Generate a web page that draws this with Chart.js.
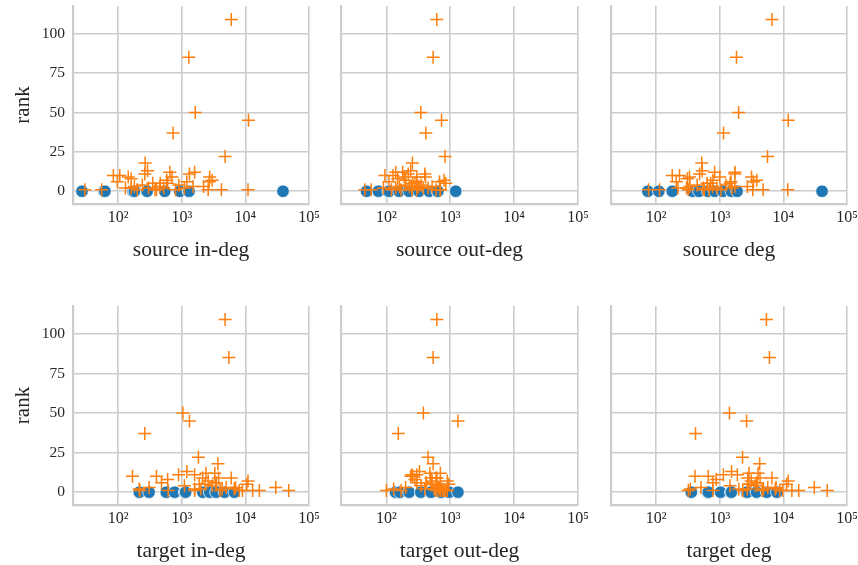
<!DOCTYPE html>
<html>
<head>
<meta charset="utf-8">
<script src="https://cdn.jsdelivr.net/npm/chart.js@4/dist/chart.umd.min.js"></script>
<style>
  html, body { margin: 0; padding: 0; background: #ffffff; }
  #wrap { position: relative; width: 858px; height: 565px; overflow: hidden; background: #ffffff; }
  #wrap canvas { position: absolute; }
</style>
</head>
<body>
<div id="wrap"></div>
<script>
// ---- data -----------------------------------------------------------------
// ranks of the ranked (orange) nodes
const orangeRank = [109, 85, 50, 45, 37, 22, 18, 1, 1, 10, 10, 6, 9, 11, 12, 9, 11, 12, 9, 6,
                    7, 1, 1, 5, 2, 3, 1, 4, 2, 5, 1, 3, 2, 7, 1, 4, 2, 6, 3, 1, 8, 13, 3, 2, 1, 5];
const srcInOrange  = [6000, 1290, 1630, 11200, 730, 4800, 265, 30, 55, 84, 106, 97, 144, 262, 650, 700, 1320, 1590, 2750, 2700,
                      3000, 4200, 11000, 600, 130, 180, 200, 240, 300, 350, 400, 450, 520, 580, 800, 900, 1100, 1200, 1500, 2600, 160, 290, 2200, 160, 380, 460];
const srcOutOrange = [616, 540, 346, 730, 415, 830, 256, 46, 58, 95, 127, 110, 190, 220, 180, 300, 400, 140, 410, 680,
                      800, 600, 700, 850, 90, 160, 120, 200, 250, 280, 170, 320, 380, 200, 250, 350, 450, 300, 230, 700, 150, 240, 520, 140, 300, 260];
const srcDegOrange = [6620, 1830, 1980, 11930, 1145, 5630, 521, 76, 113, 179, 233, 207, 334, 482, 830, 1000, 1720, 1730, 3160, 3380,
                      3800, 4800, 11700, 1450, 220, 340, 320, 440, 550, 630, 570, 770, 900, 780, 1050, 1250, 1550, 1500, 1730, 3300, 310, 530, 2720, 300, 680, 720];
const tgtInOrange  = [4800, 5500, 1040, 1320, 262, 1830, 3700, 1600, 220, 168, 400, 480, 3800, 890, 3300, 2130, 1590, 2400, 6000, 3400,
                      11000, 9000, 48000, 1880, 214, 307, 610, 1100, 1590, 2330, 4000, 4980, 6700, 2600, 8000, 3000, 2000, 3500, 30000, 16600, 600, 1200, 7000, 4300, 13000, 10500];
const tgtOutOrange = [616, 540, 380, 1320, 154, 450, 540, 700, 100, 240, 260, 300, 500, 250, 700, 620, 300, 480, 600, 420,
                      900, 800, 900, 950, 130, 200, 170, 350, 400, 500, 650, 700, 750, 520, 760, 600, 700, 420, 650, 850, 280, 330, 680, 560, 600, 700];
const tgtDegOrange = [5420, 6040, 1420, 2640, 416, 2280, 4240, 2300, 320, 408, 660, 780, 4300, 1140, 4000, 2750, 1890, 2880, 6600, 3820,
                      11900, 9800, 48900, 2830, 344, 507, 780, 1450, 1990, 2830, 4650, 5680, 7450, 3120, 8760, 3600, 2700, 3920, 30650, 17450, 880, 1530, 7680, 4860, 13600, 11200];

// unranked (blue) nodes, all at rank 0
const blueRank    = [0, 0, 0, 0, 0, 0, 0, 0, 0, 0, 0];
const srcInBlue   = [27, 60, 62, 172, 180, 285, 540, 930, 1280, 1300, 39000];
const srcOutBlue  = [49, 75, 107, 110, 158, 227, 325, 468, 630, 640, 1220];
const srcDegBlue  = [74, 110, 179, 378, 470, 650, 830, 1125, 1520, 1870, 40500];
const tgtInBlue   = [215, 306, 570, 775, 1110, 1150, 2140, 2750, 3460, 4700, 6700];
const tgtOutBlue  = [137, 140, 162, 227, 346, 495, 500, 710, 720, 960, 1320];
const tgtDegBlue  = [357, 650, 660, 1030, 1500, 1520, 2620, 2700, 3780, 5470, 7900];

// axis labels and ticks
const xTitles = ['source in-deg', 'source out-deg', 'source deg', 'target in-deg', 'target out-deg', 'target deg'];
const yTitle = 'rank';
const xTickValues = [1e2, 1e3, 1e4, 1e5];
const yTickValues = [0, 25, 50, 75, 100];

// ---- drawing --------------------------------------------------------------
const BLUE = '#1f77b4';
const ORANGE = '#ff7f0e';
const GRID = '#cccccc';
const TEXT = '#262626';
const FONT = "'Liberation Serif', 'DejaVu Serif', serif";
const SUP = { 2: '\u00b2', 3: '\u00b3', 4: '\u2074', 5: '\u2075' };

const panelSeries = [
  [srcInOrange, srcInBlue], [srcOutOrange, srcOutBlue], [srcDegOrange, srcDegBlue],
  [tgtInOrange, tgtInBlue], [tgtOutOrange, tgtOutBlue], [tgtDegOrange, tgtDegBlue]
];

// plot-area frame of each column / row in page pixels
const COLS = [{ l: 73, r: 309 }, { l: 341, r: 578 }, { l: 611, r: 847 }];
const ROWS = [{ t: 6, b: 204 }, { t: 306, b: 505 }];
const PAD_TOP = 20, PAD_RIGHT = 22, X_AXIS_H = 62;

function points(xs, ys) {
  return xs.map((x, i) => ({ x: x, y: ys[i] }));
}

const wrap = document.getElementById('wrap');

panelSeries.forEach(([orangeX, blueX], idx) => {
  const col = idx % 3, row = Math.floor(idx / 3);
  const c = COLS[col], r = ROWS[row];
  const yW = col === 0 ? 73 : 10;

  const cv = document.createElement('canvas');
  const w = yW + (c.r - c.l) + PAD_RIGHT;
  const h = PAD_TOP + (r.b - r.t) + X_AXIS_H;
  cv.width = w; cv.height = h;
  cv.style.left = (c.l - yW) + 'px';
  cv.style.top = (r.t - PAD_TOP) + 'px';
  cv.style.width = w + 'px';
  cv.style.height = h + 'px';
  wrap.appendChild(cv);

  new Chart(cv, {
    type: 'scatter',
    data: {
      datasets: [
        {
          label: 'ranked',
          data: points(orangeX, orangeRank),
          pointStyle: 'cross',
          pointRadius: 6.5,
          borderColor: ORANGE,
          backgroundColor: ORANGE,
          borderWidth: 1.5,
          order: 0
        },
        {
          label: 'unranked',
          data: points(blueX, blueRank),
          pointStyle: 'circle',
          pointRadius: 6.3,
          backgroundColor: BLUE,
          borderColor: '#ffffff',
          borderWidth: 0.8,
          order: 1
        }
      ]
    },
    options: {
      responsive: false,
      animation: false,
      devicePixelRatio: 1,
      layout: { padding: { top: PAD_TOP, right: PAD_RIGHT, left: 0, bottom: 0 } },
      plugins: { legend: { display: false }, tooltip: { enabled: false } },
      scales: {
        x: {
          type: 'logarithmic',
          min: 19.5,
          max: 1e5,
          afterBuildTicks: (s) => { s.ticks = xTickValues.map(v => ({ value: v, major: true })); },
          afterFit: (s) => { s.height = X_AXIS_H; },
          ticks: {
            autoSkip: false,
            maxRotation: 0,
            padding: 4,
            color: TEXT,
            font: { family: FONT, size: 16 },
            callback: (v) => '10' + SUP[Math.round(Math.log10(v))]
          },
          grid: { color: GRID, lineWidth: 1.6, drawTicks: false },
          border: { display: true, color: GRID, width: 2.2 },
          title: {
            display: true,
            text: xTitles[idx],
            color: TEXT,
            font: { family: FONT, size: 21.5 },
            padding: { top: 0, bottom: 3 }
          }
        },
        y: {
          type: 'linear',
          min: -8.1,
          max: 117.6,
          afterBuildTicks: (s) => { s.ticks = yTickValues.map(v => ({ value: v })); },
          afterFit: (s) => { s.width = yW; },
          ticks: {
            display: col === 0,
            padding: 8,
            color: TEXT,
            font: { family: FONT, size: 15.5 }
          },
          grid: { color: GRID, lineWidth: 1.6, drawTicks: false },
          border: { display: true, color: GRID, width: 2.2 },
          title: {
            display: col === 0,
            text: yTitle,
            color: TEXT,
            font: { family: FONT, size: 21 },
            padding: { top: 11, bottom: 0 }
          }
        }
      }
    }
  });
});
</script>
</body>
</html>
